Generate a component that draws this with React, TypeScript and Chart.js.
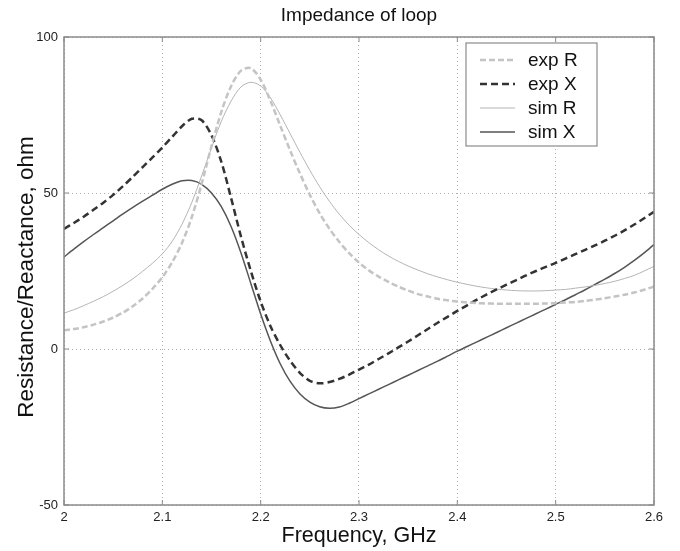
import React, { useEffect, useRef } from "react";
import { Chart, registerables } from "chart.js";

Chart.register(...registerables);

const freq: number[] = [
  2.0, 2.01, 2.02, 2.03, 2.04, 2.05, 2.06, 2.07, 2.08, 2.09,
  2.1, 2.11, 2.12, 2.13, 2.14, 2.15, 2.16, 2.17, 2.18, 2.19,
  2.2, 2.21, 2.22, 2.23, 2.24, 2.25, 2.26, 2.27, 2.28, 2.29,
  2.3, 2.31, 2.32, 2.33, 2.34, 2.35, 2.36, 2.37, 2.38, 2.39,
  2.4, 2.41, 2.42, 2.43, 2.44, 2.45, 2.46, 2.47, 2.48, 2.49,
  2.5, 2.51, 2.52, 2.53, 2.54, 2.55, 2.56, 2.57, 2.58, 2.59, 2.6,
];

const expR: number[] = [
  6, 6.4, 7, 7.8, 8.8, 10.1, 11.7, 13.7, 16.2, 19.3,
  23, 27.8, 34, 42.3, 53, 65, 76, 84.3, 89.2, 90,
  86.3, 79.5, 71.5, 63.6, 56.2, 49.4, 43.5, 38.5, 34.3, 30.7,
  27.7, 25.2, 23.2, 21.5, 20, 18.7, 17.6, 16.8, 16.1, 15.6,
  15.2, 14.9, 14.7, 14.6, 14.5, 14.5, 14.5, 14.5, 14.5, 14.6,
  14.7, 14.9, 15.1, 15.4, 15.8, 16.3, 16.8, 17.4, 18.1, 19, 20,
];

const expX: number[] = [
  38.5, 40.4, 42.4, 44.6, 46.9, 49.4, 52.2, 55.2, 58.3, 61.4,
  64.6, 68, 71.4, 73.8, 73.3, 68.5, 60, 48.3, 36, 25,
  15.2, 7.3, 1.2, -3.8, -7.7, -10.2, -11, -10.6, -9.6, -8.2,
  -6.6, -5, -3.2, -1.4, 0.5, 2.4, 4.4, 6.4, 8.4, 10.3,
  12.2, 14, 15.8, 17.5, 19.1, 20.6, 22.1, 23.6, 25, 26.3,
  27.6, 29, 30.4, 31.8, 33.2, 34.7, 36.3, 38, 39.9, 41.9, 44,
];

const simR: number[] = [
  11.5, 12.6, 13.9, 15.3, 16.8, 18.5, 20.4, 22.5, 24.9, 27.5,
  30.5, 34.5, 40, 47, 55.5, 64.5, 73, 79.5, 84, 85.5,
  84.3, 80.5, 75, 69, 63, 57.3, 52, 47.3, 43.2, 39.7,
  36.7, 34.1, 31.8, 29.8, 28.1, 26.6, 25.3, 24.1, 23.1, 22.2,
  21.4, 20.7, 20.1, 19.6, 19.2, 18.9, 18.7, 18.6, 18.6, 18.7,
  18.9, 19.1, 19.5, 19.9, 20.4, 21, 21.7, 22.6, 23.6, 25, 26.5,
];

const simX: number[] = [
  29.5, 32, 34.4, 36.7, 38.9, 41.1, 43.3, 45.4, 47.4, 49.3,
  51.2, 52.8, 53.9, 54, 52.8, 50, 45.6, 39.2, 30.8, 21,
  11.2, 2.5, -4.8, -10.4, -14.4, -17, -18.5, -19, -18.6, -17.4,
  -15.9, -14.4, -12.9, -11.4, -9.9, -8.4, -6.9, -5.4, -3.9, -2.3,
  -0.7, 0.8, 2.3, 3.8, 5.3, 6.8, 8.3, 9.8, 11.3, 12.8,
  14.3, 15.8, 17.4, 19, 20.7, 22.4, 24.2, 26.2, 28.4, 30.8, 33.5,
];

const xTicks: number[] = [2, 2.1, 2.2, 2.3, 2.4, 2.5, 2.6];
const yTicks: number[] = [-50, 0, 50, 100];
const seriesNames: string[] = ["exp R", "exp X", "sim R", "sim X"];

const FONT = "'Liberation Sans', Arial, sans-serif";

const styles = [
  { color: "#c4c4c4", width: 2.5, dash: [6, 3] },
  { color: "#333333", width: 2.5, dash: [7, 4] },
  { color: "#b4b4b4", width: 1, dash: [] as number[] },
  { color: "#555555", width: 1.5, dash: [] as number[] },
];

const decorPlugin = {
  id: "decor",
  afterDraw(chart: any) {
    const ctx = chart.ctx;
    const a = chart.chartArea;
    const xs = chart.scales.x;
    const ys = chart.scales.y;
    ctx.save();
    // frame
    ctx.strokeStyle = "#8a8a8a";
    ctx.lineWidth = 1.5;
    ctx.setLineDash([]);
    ctx.strokeRect(a.left, a.top, a.right - a.left, a.bottom - a.top);
    // inward tick marks
    ctx.lineWidth = 1;
    ctx.beginPath();
    for (const t of xTicks) {
      const px = xs.getPixelForValue(t);
      ctx.moveTo(px, a.bottom);
      ctx.lineTo(px, a.bottom - 5);
      ctx.moveTo(px, a.top);
      ctx.lineTo(px, a.top + 5);
    }
    for (const t of yTicks) {
      const py = ys.getPixelForValue(t);
      ctx.moveTo(a.left, py);
      ctx.lineTo(a.left + 5, py);
      ctx.moveTo(a.right, py);
      ctx.lineTo(a.right - 5, py);
    }
    ctx.stroke();

    // tick labels
    ctx.fillStyle = "#222";
    ctx.font = `13px ${FONT}`;
    ctx.textAlign = "center";
    ctx.textBaseline = "middle";
    for (const t of xTicks) {
      ctx.fillText(String(t), xs.getPixelForValue(t), 517);
    }
    ctx.textAlign = "right";
    for (const t of yTicks) {
      ctx.fillText(String(t), a.left - 6, ys.getPixelForValue(t));
    }

    // titles
    ctx.fillStyle = "#111";
    ctx.textAlign = "center";
    ctx.textBaseline = "middle";
    const cx = (a.left + a.right) / 2;
    ctx.font = `19px ${FONT}`;
    ctx.fillText("Impedance of loop", cx, 16);
    ctx.font = `21.5px ${FONT}`;
    ctx.fillText("Frequency, GHz", cx, 536);
    ctx.save();
    ctx.font = `22.5px ${FONT}`;
    ctx.translate(27, 277);
    ctx.rotate(-Math.PI / 2);
    ctx.fillText("Resistance/Reactance, ohm", 0, 0);
    ctx.restore();

    // legend
    const lx = 466, ly = 43, lw = 131, lh = 103;
    ctx.fillStyle = "#ffffff";
    ctx.fillRect(lx, ly, lw, lh);
    ctx.strokeStyle = "#8a8a8a";
    ctx.lineWidth = 1.2;
    ctx.strokeRect(lx, ly, lw, lh);
    ctx.font = `19px ${FONT}`;
    ctx.textAlign = "left";
    ctx.textBaseline = "middle";
    seriesNames.forEach((name, i) => {
      const y = 60 + i * 24;
      const s = styles[i];
      ctx.strokeStyle = s.color;
      ctx.lineWidth = s.width;
      ctx.setLineDash(s.dash);
      ctx.beginPath();
      ctx.moveTo(480, y);
      ctx.lineTo(515, y);
      ctx.stroke();
      ctx.setLineDash([]);
      ctx.fillStyle = "#111";
      ctx.fillText(name, 528, y + 1);
    });
    ctx.restore();
  },
};

export default function App() {
  const ref = useRef<HTMLCanvasElement | null>(null);
  useEffect(() => {
    if (!ref.current) return;
    const seriesData = [expR, expX, simR, simX];
    const chart = new Chart(ref.current, {
      type: "line",
      data: {
        datasets: seriesData.map((arr, i) => ({
          label: seriesNames[i],
          data: arr.map((v, j) => ({ x: freq[j], y: v })),
          borderColor: styles[i].color,
          borderWidth: styles[i].width,
          borderDash: styles[i].dash,
          pointRadius: 0,
          fill: false,
          tension: 0.3,
        })),
      },
      options: {
        responsive: false,
        animation: false,
        layout: { padding: { left: 64, top: 37, right: 26, bottom: 46 } },
        plugins: {
          legend: { display: false },
          title: { display: false },
          tooltip: { enabled: false },
        },
        scales: {
          x: {
            type: "linear",
            min: 2,
            max: 2.6,
            afterFit: (s: any) => { s.height = 0; },
            afterBuildTicks: (s: any) => { s.ticks = xTicks.map((v) => ({ value: v })); },
            ticks: { display: false },
            grid: { color: "#b0b0b0", lineWidth: 1, drawTicks: false },
            border: { display: false, dash: [1, 3] },
          },
          y: {
            type: "linear",
            min: -50,
            max: 100,
            afterFit: (s: any) => { s.width = 0; },
            afterBuildTicks: (s: any) => { s.ticks = yTicks.map((v) => ({ value: v })); },
            ticks: { display: false },
            grid: { color: "#b0b0b0", lineWidth: 1, drawTicks: false },
            border: { display: false, dash: [1, 3] },
          },
        },
      },
      plugins: [decorPlugin],
    });
    return () => chart.destroy();
  }, []);
  return (
    <div style={{ position: "fixed", left: 0, top: 0, width: 680, height: 551, background: "#fff" }}>
      <canvas ref={ref} width={680} height={551} style={{ display: "block" }} />
    </div>
  );
}
